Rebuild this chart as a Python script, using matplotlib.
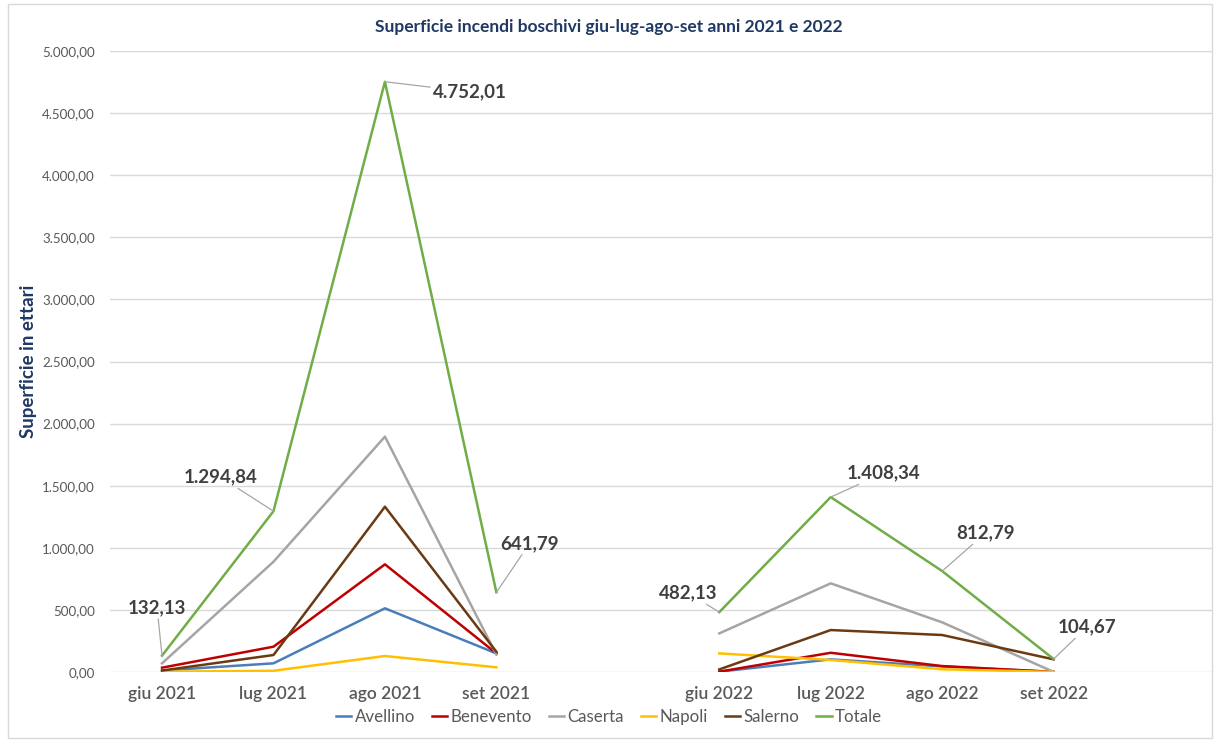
import numpy as np
import matplotlib.pyplot as plt
from matplotlib.ticker import FuncFormatter, FixedLocator
from matplotlib.patches import Rectangle

plt.rcParams['font.family'] = ['Lato', 'DejaVu Sans']

# mesi (la colonna vuota separa i due anni)
mesi = ['giu 2021', 'lug 2021', 'ago 2021', 'set 2021', '',
        'giu 2022', 'lug 2022', 'ago 2022', 'set 2022']

avellino = [12, 70, 513, 150, np.nan, 3, 102, 45, 1]
benevento = [35, 204, 867, 150, np.nan, 3, 155, 48, 1]
caserta = [70, 888, 1895, 140, np.nan, 311, 714, 400, 1]
napoli = [3, 10, 129, 38, np.nan, 150, 97, 22, 1]
salerno = [12, 137, 1331, 163, np.nan, 21, 338, 298, 102]
totale = [132.13, 1294.84, 4752.01, 641.79, np.nan, 482.13, 1408.34, 812.79, 104.67]

serie = [('Avellino', avellino, '#4a7ebb'),
         ('Benevento', benevento, '#c00000'),
         ('Caserta', caserta, '#a5a5a5'),
         ('Napoli', napoli, '#ffc000'),
         ('Salerno', salerno, '#6b3a12'),
         ('Totale', totale, '#70ad47')]


def ita(v):
    return f"{v:,.2f}".replace(',', 'X').replace('.', ',').replace('X', '.')


# spostamento delle etichette del totale (pixel) e allineamento
etich = {0: (-5, 48, 'center'), 1: (-16, 34, 'right'), 2: (48, -10, 'left'),
         3: (4, 49, 'left'), 5: (-2, 19, 'right'), 6: (16, 24, 'left'),
         7: (14, 38, 'left'), 8: (4, 32, 'left')}

fig = plt.figure(figsize=(12.18, 7.42), dpi=100)
fig.patches.append(Rectangle((8 / 1218, 4 / 742), 1204 / 1218, 734 / 742,
                             transform=fig.transFigure, fill=False,
                             edgecolor='#d9d9d9', lw=1))
ax = fig.add_axes([0.0903, 0.0943, 0.9056, 0.837])

x = np.arange(len(mesi))
for nome, val, col in serie:
    ax.plot(x, val, color=col, lw=1.8, label=nome)

for i, (dx, dy, ha) in etich.items():
    ax.annotate(ita(totale[i]),
                xy=(x[i], totale[i]), xytext=(dx, dy), textcoords='offset pixels',
                ha=ha, va='center', fontsize=13.5, fontweight='bold', color='#404040',
                arrowprops=dict(arrowstyle='-', color='#a6a6a6', lw=0.9,
                                shrinkA=0, shrinkB=0))

ax.set_xlim(-0.467, 9.43)
ax.set_ylim(0, 5000)
ax.xaxis.set_major_locator(FixedLocator(x))
ax.set_xticklabels(mesi, fontsize=12.5, color='#595959', fontweight='semibold')
ax.yaxis.set_major_locator(FixedLocator(np.arange(0, 5001, 500)))
ax.yaxis.set_major_formatter(FuncFormatter(lambda v, p: ita(v)))
ax.tick_params(axis='y', labelsize=9.6, labelcolor='#595959', length=0, pad=11)
ax.tick_params(axis='x', length=0, pad=10)
ax.grid(axis='y', color='#d9d9d9', lw=1)
ax.set_axisbelow(True)
for s in ax.spines.values():
    s.set_visible(False)

ax.set_ylabel('Superficie in ettari', fontsize=13.5, fontweight='bold', color='#1f3864')
ax.yaxis.set_label_coords(-0.066, 0.5)
fig.text(0.5, 0.963, 'Superficie incendi boschivi giu-lug-ago-set anni 2021 e 2022',
         ha='center', va='center', fontsize=12.5, fontweight='bold', color='#1f3864')

fig.legend(loc='center', bbox_to_anchor=(0.5, 0.034), ncol=6, frameon=False,
           fontsize=12.2, handlelength=0.9, handletextpad=0.2, columnspacing=1.0,
           labelcolor='#595959')

plt.savefig('out.png', dpi=100)
